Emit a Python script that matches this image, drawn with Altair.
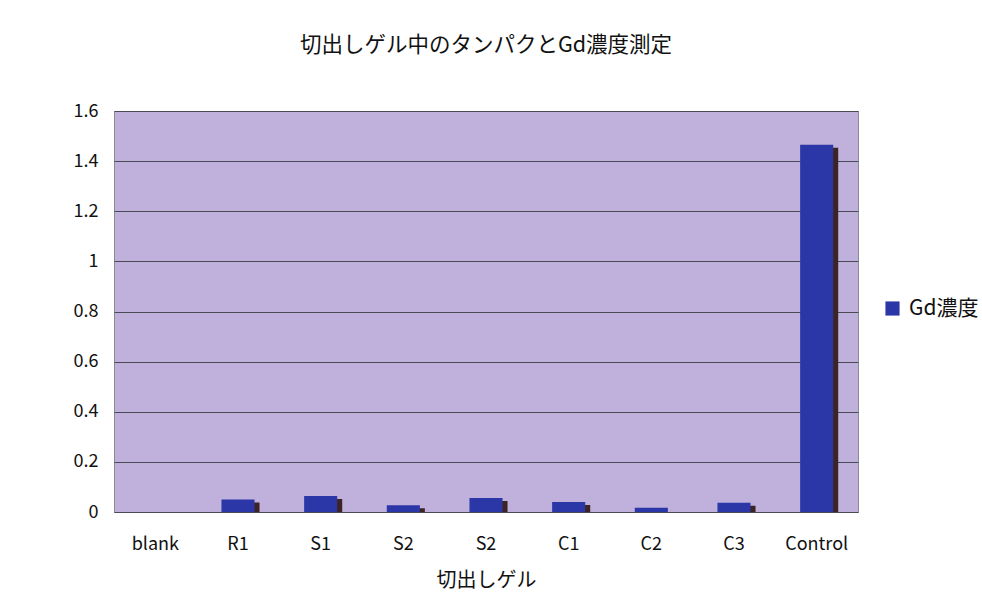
import altair as alt
import pandas as pd

labels = ["blank", "R1", "S1", "S2", "S2", "C1", "C2", "C3", "Control"]
values = [0.0, 0.050, 0.064, 0.027, 0.056, 0.040, 0.017, 0.037, 1.465]
series = "Gd濃度"

df = pd.DataFrame({
    "i": list(range(len(labels))),
    "label": labels,
    "value": values,
    "series": [series] * len(labels),
})

FONT = "Noto Sans CJK JP"
label_arr = "[" + ",".join("'" + l + "'" for l in labels) + "]"

x_enc = alt.X(
    "i:O",
    title="切出しゲル",
    axis=alt.Axis(
        labelExpr=label_arr + "[datum.value]",
        labelAngle=0,
        ticks=False,
        domain=False,
        labelPadding=23,
        labelFontSize=18,
        titleFontSize=20,
        titleFontWeight="normal",
        titlePadding=17,
        labelColor="#111",
        titleColor="#111",
        grid=False,
    ),
    scale=alt.Scale(paddingInner=0.6, paddingOuter=0.3),
)
y_enc = alt.Y(
    "value:Q",
    title=None,
    scale=alt.Scale(domain=[0, 1.6], nice=False),
    axis=alt.Axis(
        values=[0, 0.2, 0.4, 0.6, 0.8, 1.0, 1.2, 1.4, 1.6],
        format=".1~f",
        ticks=False,
        domain=False,
        labelPadding=16,
        labelFontSize=18,
        labelColor="#111",
        grid=True,
        gridColor="#4a4a55",
        gridWidth=1.2,
    ),
)

shadow = (
    alt.Chart(df)
    .transform_filter("datum.value > 0.02")
    .mark_bar(color="#3c2424", xOffset=5, yOffset=3, y2Offset=0)
    .encode(x=x_enc, y=y_enc, y2=alt.datum(0))
)
bars = alt.Chart(df).mark_bar().encode(
    x=x_enc,
    y=y_enc,
    color=alt.Color(
        "series:N",
        scale=alt.Scale(range=["#2b37a6"]),
        legend=alt.Legend(
            title=None,
            orient="none",
            legendX=768,
            legendY=187,
            symbolType="square",
            symbolSize=200,
            symbolStrokeWidth=0,
            labelFontSize=21,
            labelColor="#111",
            labelOffset=6,
        ),
    ),
)

chart = (
    alt.layer(shadow, bars)
    .properties(
        width=744,
        height=401,
        title=alt.TitleParams(
            "切出しゲル中のタンパクとGd濃度測定",
            fontSize=21.5,
            fontWeight="normal",
            color="#111",
            offset=46,
            anchor="middle",
        ),
        autosize=alt.AutoSizeParams(type="none"),
        padding={"left": 114, "top": 111, "right": 124, "bottom": 96},
    )
    .configure(font=FONT, background="white")
    .configure_view(fill="#bfb0dc", stroke="#8a8a92", strokeWidth=1)
)

chart.save("out.html", embed_options={"renderer": "svg", "actions": False})
